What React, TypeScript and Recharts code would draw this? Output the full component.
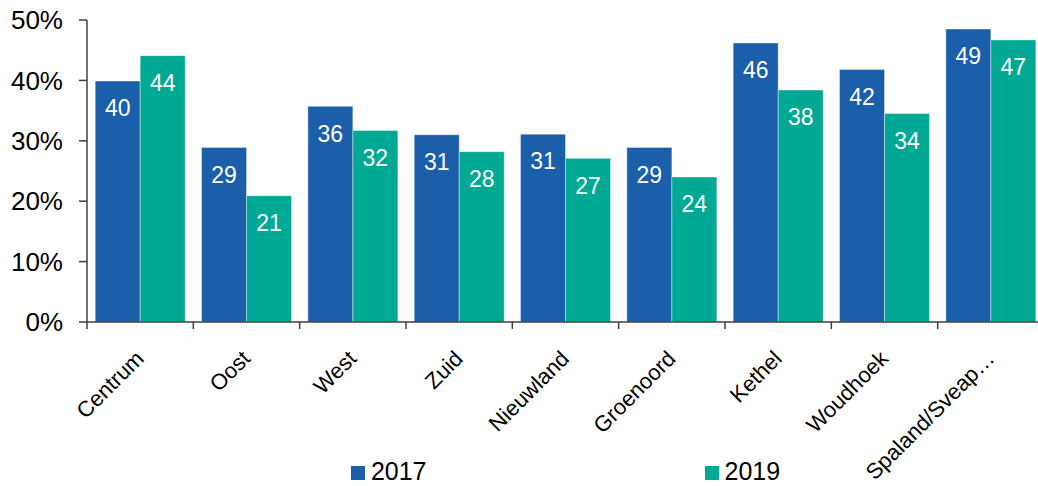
import { BarChart, Bar, XAxis, YAxis, Legend, LabelList } from "recharts";

const categories = [
  "Centrum",
  "Oost",
  "West",
  "Zuid",
  "Nieuwland",
  "Groenoord",
  "Kethel",
  "Woudhoek",
  "Spaland/Sveap…",
];

const values2017 = [39.9, 28.9, 35.7, 31.0, 31.1, 28.9, 46.2, 41.8, 48.5];
const values2019 = [44.1, 20.9, 31.7, 28.2, 27.1, 24.0, 38.4, 34.5, 46.7];
const labels2017 = [40, 29, 36, 31, 31, 29, 46, 42, 49];
const labels2019 = [44, 21, 32, 28, 27, 24, 38, 34, 47];

const yTicks = [0, 10, 20, 30, 40, 50];
const boundaryTicks = [0, 1, 2, 3, 4, 5, 6, 7, 8, 9];

const BLUE = "#1B5EA9";
const TEAL = "#00A993";
const AXIS = "#404040";
const FONT = "'Liberation Sans', Arial, sans-serif";

const data = categories.map((name, i) => ({
  name,
  idx: i + 0.5,
  v2017: values2017[i],
  v2019: values2019[i],
  l2017: labels2017[i],
  l2019: labels2019[i],
}));

const CategoryTick = (props: any) => {
  const { x, y, payload } = props;
  const px = x + 5;
  const py = y + 29;
  return (
    <text
      x={px}
      y={py}
      transform={`rotate(-45, ${px}, ${py})`}
      textAnchor="end"
      fontSize={22}
      fontFamily={FONT}
      fill="#000"
    >
      {payload.value}
    </text>
  );
};

// boundary axis only shows tick marks, no labels
const EmptyTick = () => <g />;

const LegendContent = () => (
  <div
    style={{
      display: "flex",
      justifyContent: "center",
      gap: 278,
      marginLeft: 87,
      width: 957,
      height: 30,
      paddingTop: 1,
      fontFamily: FONT,
      fontSize: 25,
      color: "#000",
    }}
  >
    {[
      { label: "2017", color: BLUE },
      { label: "2019", color: TEAL },
    ].map((it) => (
      <div key={it.label} style={{ display: "flex", alignItems: "center" }}>
        <span
          style={{
            display: "inline-block",
            width: 14,
            height: 14,
            background: it.color,
            marginRight: 6,
            marginTop: 4,
          }}
        />
        <span>{it.label}</span>
      </div>
    ))}
  </div>
);

export default function App() {
  return (
    <div
      style={{
        position: "absolute",
        left: 0,
        top: 0,
        width: 1038,
        height: 486,
        overflow: "hidden",
        background: "#fff",
      }}
    >
      <BarChart
        width={1044}
        height={486}
        data={data}
        margin={{ top: 20, right: 0, left: 0, bottom: 0 }}
        barCategoryGap="7.7%"
        barGap={0}
      >
        <XAxis
          xAxisId="bounds"
          type="number"
          dataKey="idx"
          domain={[0, 9]}
          ticks={boundaryTicks}
          tick={<EmptyTick />}
          height={1}
          axisLine={{ stroke: AXIS, strokeWidth: 1.5 }}
          tickLine={{ stroke: AXIS, strokeWidth: 1.5 }}
          tickSize={7}
        />
        <XAxis
          xAxisId="cat"
          dataKey="name"
          interval={0}
          height={132}
          axisLine={false}
          tickLine={false}
          tick={<CategoryTick />}
        />
        <YAxis
          width={87}
          domain={[0, 50]}
          ticks={yTicks}
          tickFormatter={(v) => `${v}%`}
          axisLine={{ stroke: AXIS, strokeWidth: 1.5 }}
          tickLine={{ stroke: AXIS, strokeWidth: 1.5 }}
          tickSize={8}
          tickMargin={16}
          tick={{ fill: "#000", fontSize: 26, fontFamily: FONT }}
        />
        <Legend verticalAlign="bottom" content={<LegendContent />} />
        <Bar
          xAxisId="cat"
          dataKey="v2017"
          fill={BLUE}
          stroke="#ffffff"
          strokeOpacity={0.5}
          strokeWidth={0.8}
          isAnimationActive={false}
        >
          <LabelList
            dataKey="l2017"
            position="insideTop"
            offset={19}
            fill="#fff"
            fontSize={23}
            fontFamily={FONT}
          />
        </Bar>
        <Bar
          xAxisId="cat"
          dataKey="v2019"
          fill={TEAL}
          stroke="#ffffff"
          strokeOpacity={0.5}
          strokeWidth={0.8}
          isAnimationActive={false}
        >
          <LabelList
            dataKey="l2019"
            position="insideTop"
            offset={19}
            fill="#fff"
            fontSize={23}
            fontFamily={FONT}
          />
        </Bar>
      </BarChart>
    </div>
  );
}
